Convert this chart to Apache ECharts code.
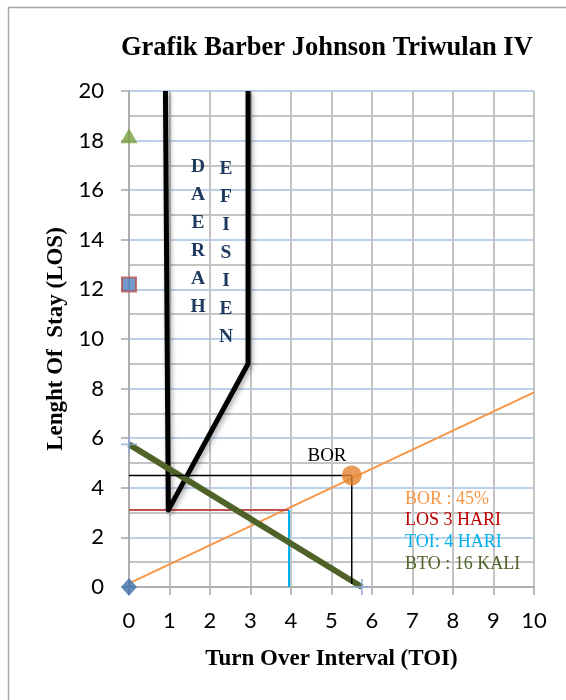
<!DOCTYPE html>
<html><head><meta charset="utf-8">
<script src="https://cdn.jsdelivr.net/npm/echarts@6/dist/echarts.min.js"></script>
<style>html,body{margin:0;padding:0;background:#fff}#c{width:566px;height:700px}</style>
</head><body><div id="c"></div>
<script>
const titleText = 'Grafik Barber Johnson Triwulan IV';
const xAxisTitle = 'Turn Over Interval (TOI)';
const yAxisTitle = 'Lenght Of  Stay (LOS)';
const xTickLabels = ['0','1','2','3','4','5','6','7','8','9','10'];
const yTickLabels = ['0','2','4','6','8','10','12','14','16','18','20'];

// Barber Johnson elements (TOI, LOS)
const efficientZone = [[0.9,20],[0.97,3.1],[2.94,9],[2.94,20]];
const borLine = [[0,0.15],[10,7.85]];
const losLine = [[0,3.1],[3.95,3.1]];
const toiLine = [[3.95,3.1],[3.95,0]];
const btoLine = [[0,5.75],[5.75,0]];
const borGuide = [[0,4.5],[5.5,4.5],[5.5,0.12]];
const borPoint = [[5.5,4.5]];
const btoEnds = [[0,5.75],[5.75,0]];
const triangleMark = [[0,18.2]];
const squareMark = [[0,12.2]];
const diamondMark = [[0,0]];

const zoneWord1 = ['D','A','E','R','A','H'];
const zoneWord2 = ['E','F','I','S','I','E','N'];
const infoLabels = ['BOR : 45%','LOS 3 HARI','TOI: 4 HARI','BTO : 16 KALI'];
const infoColors = ['#f79646','#c00000','#00b0f0','#4f6228'];

const serif = 'Liberation Serif';
const shadow = {shadowColor:'rgba(0,0,0,0.35)', shadowBlur:5, shadowOffsetX:2, shadowOffsetY:2};

const chart = echarts.init(document.getElementById('c'), null, {renderer:'canvas'});
const graphics = [
  {type:'rect', z:100, shape:{x:8.5,y:7.5,width:700,height:900}, style:{fill:null, stroke:'#a6a6a6', lineWidth:1.5}, silent:true},
  {type:'text', z:100, left:121, top:35, style:{text:titleText, font:'bold 26.5px "'+serif+'"', fill:'#000'}},
  {type:'text', z:100, x:198, y:153, style:{text:zoneWord1.join('\n'), font:'bold 19.5px "'+serif+'"', fill:'#1f3a5f', align:'center', lineHeight:28}},
  {type:'text', z:100, x:226, y:155, style:{text:zoneWord2.join('\n'), font:'bold 19.5px "'+serif+'"', fill:'#1f3a5f', align:'center', lineHeight:28}},
  {type:'text', z:100, x:327, y:456, style:{text:'BOR', font:'19px "'+serif+'"', fill:'#000', align:'center', verticalAlign:'middle'}}
];
infoLabels.forEach((t,i)=>{
  graphics.push({type:'text', z:100, x:405, y:499 + i*21.6, style:{text:t, font:'18px "'+serif+'"', fill:infoColors[i], align:'left', verticalAlign:'middle'}});
});

const lineSeries = (data, color, width, extra) => Object.assign({
  type:'line', data, symbol:'none', silent:true, animation:false,
  lineStyle:{color, width}
}, extra||{});

chart.setOption({
  animation:false,
  grid:{left:129, right:32, top:91, bottom:113},
  xAxis:{
    type:'value', min:0, max:10, interval:1,
    name:xAxisTitle, nameLocation:'middle', nameGap:61,
    nameTextStyle:{fontFamily:serif, fontWeight:'bold', fontSize:23, color:'#000'},
    axisLine:{show:true, lineStyle:{color:'#a6a6a6', width:1.5}},
    axisTick:{show:true, length:8, lineStyle:{color:'#a6a6a6', width:1.5}},
    axisLabel:{margin:23, fontFamily:'Lato', fontSize:22, color:'#000', formatter:v=>xTickLabels[Math.round(v)]},
    splitLine:{show:true, lineStyle:{color:'#c4c4c4', width:2}}
  },
  yAxis:{
    type:'value', min:0, max:20, interval:2,
    name:yAxisTitle, nameLocation:'middle', nameGap:60, nameRotate:90,
    nameTextStyle:{fontFamily:serif, fontWeight:'bold', fontSize:23, color:'#000'},
    axisLine:{show:true, lineStyle:{color:'#a6a6a6', width:1.5}},
    axisTick:{show:true, length:8, lineStyle:{color:'#a6a6a6', width:1.5}},
    axisLabel:{margin:25, fontFamily:'Lato', fontSize:22, color:'#000', formatter:v=>yTickLabels[Math.round(v/2)]},
    minorTick:{show:false, splitNumber:2},
    minorSplitLine:{show:true, lineStyle:{color:'#c4c4c4', width:2}},
    splitLine:{show:true, lineStyle:{color:'#bcd0ea', width:2}}
  },
  graphic:graphics,
  series:[
    lineSeries(borLine, '#f79646', 2),
    lineSeries(losLine, '#c0504d', 2),
    lineSeries(toiLine, '#00b0f0', 2),
    lineSeries(efficientZone, '#000', 5, {lineStyle:Object.assign({color:'#000', width:5, join:'round'}, shadow)}),
    lineSeries(btoLine, '#4f6228', 6),
    lineSeries(borGuide, '#000', 1.5),
    {type:'scatter', data:borPoint, symbol:'circle', symbolSize:20, itemStyle:{color:'#e3832e'}, silent:true, z:5},
    {type:'scatter', data:btoEnds, symbol:'path://M0,4.4h10v1.2h-10zM4.4,0h1.2v10h-1.2z', symbolSize:16, itemStyle:{color:'#8eaad6'}, silent:true, z:5},
    {type:'scatter', data:triangleMark, symbol:'triangle', symbolSize:[17,15], itemStyle:{color:'#77a042'}, silent:true, z:5},
    {type:'scatter', data:squareMark, symbol:'rect', symbolSize:14, itemStyle:{color:'#4f81bd', borderColor:'#c0504d', borderWidth:2}, silent:true, z:5},
    {type:'scatter', data:diamondMark, symbol:'diamond', symbolSize:[16,18], itemStyle:{color:'#4070a8'}, silent:true, z:5}
  ]
});
</script></body></html>
